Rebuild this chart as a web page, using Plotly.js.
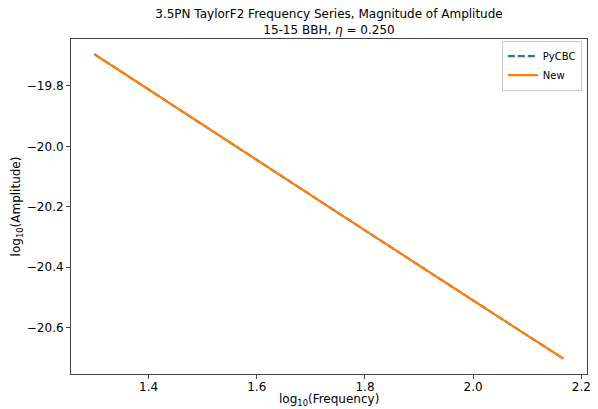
<!DOCTYPE html>
<html>
<head>
<meta charset="utf-8">
<script src="https://cdn.plot.ly/plotly-3.0.1.min.js"></script>
<style>html,body{margin:0;padding:0;background:#fff;}#chart{width:598px;height:409px;}</style>
</head>
<body>
<div id="chart"></div>
<script>
// log10(Frequency) and log10(Amplitude) values
const logFreq = [1.300, 1.400, 1.600, 1.800, 2.000, 2.167];
const pycbcLogAmp = [-19.695, -19.812, -20.045, -20.278, -20.510, -20.703];
const newLogAmp = [-19.695, -19.812, -20.045, -20.278, -20.510, -20.703];
const xTicks = [1.4, 1.6, 1.8, 2.0, 2.2];
const yTicks = [-19.8, -20.0, -20.2, -20.4, -20.6];

const font = {family: 'DejaVu Sans, sans-serif', size: 12, color: '#000'};

const traces = [
  {x: logFreq, y: pycbcLogAmp, name: 'PyCBC', mode: 'lines',
   line: {color: '#1f77b4', width: 2.2, dash: '7px,3px'}},
  {x: logFreq, y: newLogAmp, name: 'New', mode: 'lines',
   line: {color: '#ff7f0e', width: 2.2}}
];

const axisCommon = {
  showline: true, mirror: true, linecolor: '#444', linewidth: 1,
  ticks: 'outside', ticklen: 4, tickwidth: 1, tickcolor: '#444',
  showgrid: false, zeroline: false, tickfont: font
};

const layout = {
  width: 598, height: 409,
  margin: {l: 71, r: 11, t: 39, b: 35},
  paper_bgcolor: '#fff', plot_bgcolor: '#fff',
  font: font,
  title: {
    text: '3.5PN TaylorF2 Frequency Series, Magnitude of Amplitude<br>15-15 BBH, <i>η</i> = 0.250',
    font: {family: 'DejaVu Sans, sans-serif', size: 12, color: '#000'},
    x: 0.5, xref: 'paper', xanchor: 'center',
    yref: 'container', y: 0.956, yanchor: 'middle'
  },
  xaxis: Object.assign({}, axisCommon, {
    range: [1.2566, 2.2104], tickvals: xTicks, tickformat: '.1f',
    ticklabelstandoff: -2
  }),
  yaxis: Object.assign({}, axisCommon, {
    range: [-20.7534, -19.6446], tickvals: yTicks, tickformat: '.1f',
    title: {text: 'log<sub>10</sub>(Amplitude)', font: font, standoff: 3}
  }),
  annotations: [{
    text: 'log<sub>10</sub>(Frequency)', xref: 'paper', yref: 'paper',
    x: 0.5, y: -0.077, xanchor: 'center', yanchor: 'middle',
    showarrow: false, font: font, borderpad: 0
  }],
  showlegend: true,
  legend: {
    x: 0.99, y: 0.995, xanchor: 'right', yanchor: 'top',
    bgcolor: 'rgba(255,255,255,0.8)', bordercolor: '#ccc', borderwidth: 1,
    font: {family: 'DejaVu Sans, sans-serif', size: 10, color: '#000'},
    tracegroupgap: 0, itemwidth: 30
  }
};

Plotly.newPlot('chart', traces, layout, {displayModeBar: false, staticPlot: true});
</script>
</body>
</html>
